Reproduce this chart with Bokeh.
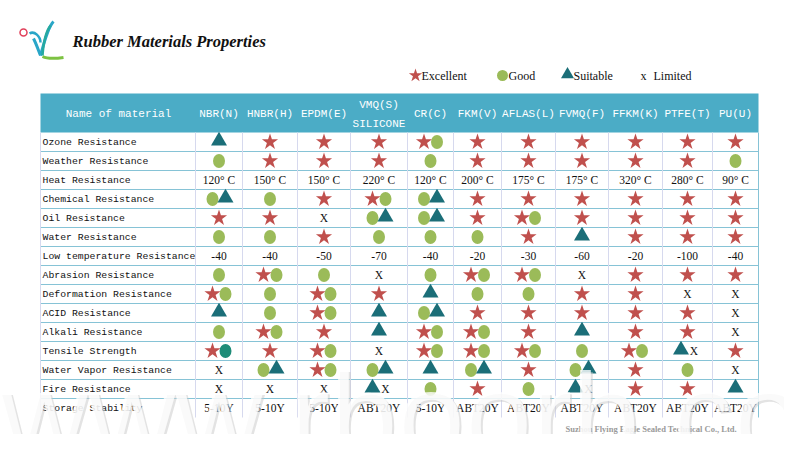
from bokeh.plotting import figure
from bokeh.models import Range1d
from bokeh.embed import file_html
from bokeh.resources import INLINE
from bokeh.core.properties import value

# ---------------- data ----------------
title = "Rubber Materials Properties"
header_name = "Name of material"
materials = ["NBR(N)", "HNBR(H)", "EPDM(E)", "VMQ(S)", "CR(C)", "FKM(V)",
             "AFLAS(L)", "FVMQ(F)", "FFKM(K)", "PTFE(T)", "PU(U)"]
material_sub = ["", "", "", "SILICONE", "", "", "", "", "", "", ""]

properties = ["Ozone Resistance", "Weather Resistance", "Heat Resistance",
              "Chemical Resistance", "Oil Resistance", "Water Resistance",
              "Low temperature Resistance", "Abrasion Resistance",
              "Deformation Resistance", "ACID Resistance", "Alkali Resistance",
              "Tensile Strength", "Water Vapor Resistance", "Fire Resistance",
              "Storage Stability"]

# symbol codes: S = Excellent (star), G = Good (circle), T = Suitable (triangle),
# X = Limited, g = good/suitable (teal circle)
ozone      = ["T", "S", "S", "S", "SG", "S", "S", "S", "S", "S", "S"]
weather    = ["G", "S", "S", "S", "G", "S", "S", "S", "S", "S", "G"]
heat       = ["120° C", "150° C", "150° C", "220° C", "120° C", "200° C",
              "175° C", "175° C", "320° C", "280° C", "90° C"]
chemical   = ["GT", "G", "S", "SG", "GT", "S", "S", "S", "S", "S", "S"]
oil        = ["S", "S", "X", "GT", "GT", "S", "SG", "S", "S", "S", "S"]
water      = ["G", "G", "S", "G", "G", "G", "S", "T", "S", "S", "S"]
low_temp   = ["-40", "-40", "-50", "-70", "-40", "-20", "-30", "-60", "-20", "-100", "-40"]
abrasion   = ["G", "SG", "G", "X", "G", "SG", "SG", "X", "S", "S", "S"]
deformation = ["SG", "G", "SG", "S", "T", "G", "G", "S", "S", "X", "X"]
acid       = ["T", "G", "SG", "T", "GT", "S", "S", "S", "S", "S", "X"]
alkali     = ["G", "SG", "S", "T", "SG", "SG", "S", "T", "S", "S", "X"]
tensile    = ["Sg", "S", "SG", "X", "SG", "SG", "SG", "G", "SG", "TX", "S"]
water_vapor = ["X", "GT", "SG", "GT", "T", "GT", "S", "GT", "S", "G", "X"]
fire       = ["X", "X", "X", "TX", "G", "S", "G", "TX", "S", "S", "T"]
storage    = ["5-10Y", "5-10Y", "5-10Y", "ABT20Y", "5-10Y", "ABT20Y",
              "ABT20Y", "ABT20Y", "ABT20Y", "ABT20Y", "ABT20Y"]

legend_labels = ["Excellent", "Good", "Suitable", "Limited"]
legend_codes = ["S", "G", "T", "X"]
footer = "Suzhou Flying Eagle Sealed Technical Co., Ltd."
watermark = "www.rboorb.com"

rows = [ozone, weather, heat, chemical, oil, water, low_temp, abrasion,
        deformation, acid, alkali, tensile, water_vapor, fire, storage]
text_rows = {2, 6, 14}

# ---------------- layout ----------------
col_edges = [40, 195, 242, 297, 350, 407, 453, 501, 555, 608, 662, 712, 758]
col_centers = [(a + b) / 2 for a, b in zip(col_edges[1:-1], col_edges[2:])]
header_top, header_bottom = 93, 132
row_h = 19
row_centers = [header_bottom + row_h * (i + 0.5) for i in range(len(properties))]
table_bottom = header_bottom + row_h * len(properties)

STAR = "#C0504D"
GOOD = "#9BBB59"
TRI = "#1B6E78"
TEAL_C = "#1E8C78"
HEAD = "#4BACC6"

p = figure(width=784, height=434, x_range=Range1d(0, 784), y_range=Range1d(434, 0),
           output_backend="svg", toolbar_location=None, min_border=0,
           x_axis_type=None, y_axis_type=None)
p.grid.visible = False
p.outline_line_color = None
p.background_fill_color = "white"
p.border_fill_color = "white"

# logo
p.bezier(x0=[29, 33, 40, 42], y0=[33, 38, 55, 56], x1=[40, 40, 53, 63], y1=[42, 55, 21, 57],
         cx0=[34, 36, 44, 46], cy0=[30, 44, 40, 58], cx1=[40, 38, 48, 56], cy1=[36, 50, 26, 58],
         line_color=["#2AA6C8", "#2AA6C8", "#2AA6C8", "#7DC242"], line_width=[2.5, 3, 3, 3])
p.bezier(x0=[42], y0=[55], x1=[50], y1=[25], cx0=[43], cy0=[42], cx1=[46], cy1=[30],
         line_color="#25A9A0", line_width=2.5)
p.scatter(x=[23], y=[32], size=7, marker="circle", fill_color=None,
          line_color="#E0405A", line_width=1.5)

# title
p.text(x=[72], y=[41], text=[title], text_font=value("Liberation Serif"),
       text_font_style="bold italic", text_font_size="16.5px", text_color="#111111",
       text_baseline="middle", text_align="left")

# legend
leg_x = [415, 502, 567, 643]
leg_y = 75
for code, lx, lab in zip(legend_codes, leg_x, legend_labels):
    if code == "S":
        p.scatter(x=[lx], y=[leg_y], marker="star", size=14, fill_color=STAR, line_color=None)
    elif code == "G":
        p.ellipse(x=[lx], y=[leg_y], width=11, height=11, fill_color=GOOD, line_color=None)
    elif code == "T":
        p.scatter(x=[lx], y=[leg_y - 1], marker="triangle", size=13, fill_color=TRI, line_color=None)
    else:
        p.text(x=[lx], y=[leg_y], text=["x"], text_font=value("Liberation Serif"),
               text_font_size="12px", text_color="#111111", text_baseline="middle",
               text_align="center")
    p.text(x=[lx + (10 if code == "X" else 6)], y=[leg_y], text=[lab],
           text_font=value("Liberation Serif"), text_font_size="12px",
           text_color="#111111", text_baseline="middle", text_align="left")

# header
p.quad(left=[col_edges[0]], right=[col_edges[-1]], top=[header_top], bottom=[header_bottom],
       fill_color=HEAD, line_color=None)
p.text(x=[118], y=[113], text=[header_name], text_font=value("Liberation Mono"),
       text_font_size="11px", text_color="white", text_baseline="middle", text_align="center")
hx, hy, ht = [], [], []
for cx, m, s in zip(col_centers, materials, material_sub):
    if s:
        hx += [cx, cx]; hy += [104, 123]; ht += [m, s]
    else:
        hx.append(cx); hy.append(113); ht.append(m)
p.text(x=hx, y=hy, text=ht, text_font=value("Liberation Mono"), text_font_size="11px",
       text_color="white", text_baseline="middle", text_align="center")

# grid lines
hy_lines = [header_bottom + row_h * i for i in range(1, len(properties))]
p.segment(x0=[col_edges[0]] * len(hy_lines), x1=[col_edges[-1]] * len(hy_lines),
          y0=hy_lines, y1=hy_lines, line_color="#86C3D6", line_width=1)
p.segment(x0=col_edges[:-1], x1=col_edges[:-1], y0=[header_bottom] * (len(col_edges) - 1),
          y1=[table_bottom] * (len(col_edges) - 1), line_color="#D6D9EE", line_width=1)
p.segment(x0=[col_edges[-1]], x1=[col_edges[-1]], y0=[header_bottom], y1=[table_bottom],
          line_color="#86C3D6", line_width=1)

# row labels
p.text(x=[42] * len(properties), y=row_centers, text=properties,
       text_font=value("Liberation Mono"), text_font_size="9.8px", text_color="#111111",
       text_baseline="middle", text_align="left")

# cells
sx, sy, gx, gy, tx, ty, cgx, cgy = [], [], [], [], [], [], [], []
xx, xy, xt = [], [], []
for r, row in enumerate(rows):
    y = row_centers[r]
    for c, cell in enumerate(row):
        x = col_centers[c]
        if r in text_rows:
            xx.append(x); xy.append(y); xt.append(cell)
            continue
        n = len(cell)
        offs = [0] if n == 1 else [-6.5, 6.5]
        for ch, o in zip(cell, offs):
            if ch == "S":
                sx.append(x + o); sy.append(y)
            elif ch == "G":
                gx.append(x + o); gy.append(y)
            elif ch == "g":
                cgx.append(x + o); cgy.append(y)
            elif ch == "T":
                tx.append(x + o); ty.append(y - 1)
            elif ch == "X":
                xx.append(x + o); xy.append(y); xt.append("X")

p.scatter(x=sx, y=sy, marker="star", size=17, fill_color=STAR, line_color=None)
p.ellipse(x=gx, y=gy, width=12, height=14, fill_color=GOOD, line_color=None)
p.ellipse(x=cgx, y=cgy, width=12, height=14, fill_color=TEAL_C, line_color=None)
p.scatter(x=tx, y=ty, marker="triangle", size=16, fill_color=TRI, line_color=None)
p.text(x=xx, y=xy, text=xt, text_font=value("Liberation Serif"), text_font_size="11.5px",
       text_color="#111111", text_baseline="middle", text_align="center")

# footer
p.text(x=[565], y=[428], text=[footer], text_font=value("Liberation Serif"),
       text_font_style="bold", text_font_size="8.5px", text_color="#9A9A9A",
       text_baseline="middle", text_align="left")

# watermark (embossed look: grey shadow + translucent white face)
p.text(x=[2], y=[416], text=[watermark], text_font=value("Liberation Sans"),
       text_font_size="121px", text_color="#C8C8C8", text_alpha=0.5,
       text_baseline="middle", text_align="left")
p.text(x=[0], y=[414], text=[watermark], text_font=value("Liberation Sans"),
       text_font_size="121px", text_color="white", text_alpha=0.8,
       text_baseline="middle", text_align="left")

open("out.html", "w").write(file_html(p, INLINE))
